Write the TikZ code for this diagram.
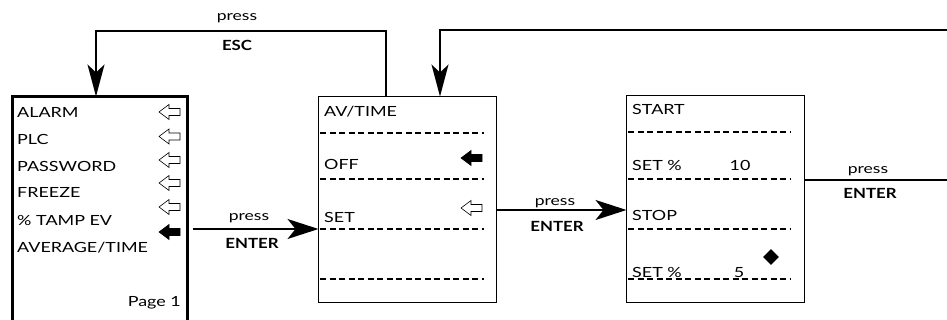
\documentclass[tikz,border=0pt]{standalone}
\usepackage{fontspec}
\setmainfont{Lato}
\usetikzlibrary{arrows.meta,shapes.geometric}
\begin{document}
\begin{tikzpicture}[x=1pt,y=-1pt,
  frame/.style={draw, line width=1.1pt, inner sep=0pt, outer sep=0pt, minimum width=178pt},
  thickframe/.style={draw, line width=3pt, inner sep=0pt, outer sep=0pt, minimum width=175pt},
  txt/.style={anchor=west, inner sep=0pt, text height=10pt, text depth=0pt, font=\fontsize{14}{16}\selectfont\addfontfeatures{FakeStretch=1.28}},
  num/.style={anchor=center, inner sep=0pt, text height=10pt, text depth=0pt, font=\fontsize{14}{16}\selectfont\addfontfeatures{FakeStretch=1.28}},
  lbl/.style={anchor=base, inner sep=0pt, font=\fontsize{13.5}{15}\selectfont\addfontfeatures{FakeStretch=1.3}},
  key/.style={anchor=center, inner sep=0pt, text height=10pt, text depth=0pt, font=\fontsize{14}{16}\selectfont\bfseries\addfontfeatures{FakeStretch=1.2}},
  conn/.style={line width=1.6pt},
  tip/.style={-{Stealth[length=31pt,width=20pt,inset=8pt]}},
  dtip/.style={-{Stealth[length=32pt,width=17pt,inset=8pt]}},
  sep/.style={line width=1.6pt, dash pattern=on 6pt off 3.5pt},
  larr/.pic={\path[pic actions] (-10.5,0) -- (-0.5,-7.5) -- (-0.5,-3.5) -- (10.5,-3.5) -- (10.5,3.5) -- (-0.5,3.5) -- (-0.5,7.5) -- cycle;},
  warrow/.style={draw, line width=0.6pt, fill=white},
  barrow/.style={draw, line width=0.6pt, fill=black}]
\useasboundingbox (0,0) rectangle (947,320);

% boxes
\node[thickframe, minimum height=243.5pt] (b1) at (100,218.25) {};
\node[frame, minimum height=206pt] (b2) at (407.5,199.5) {};
\node[frame, minimum height=207pt] (b3) at (715.5,199) {};

% box 1 contents
\node[txt] (t11) at (17,113) {ALARM};
\node[txt] (t12) at (17,140) {PLC};
\node[txt] (t13) at (17,166.5) {PASSWORD};
\node[txt] (t14) at (17,193) {FREEZE};
\node[txt] (t15) at (17,221) {\% TAMP EV};
\node[txt] (t16) at (17,248) {AVERAGE/TIME};
\node[txt, anchor=east] (t17) at (181,301) {Page 1};
\pic[warrow] at (169.5,112) {larr};
\pic[warrow] at (169.5,136.5) {larr};
\pic[warrow] at (169.5,160) {larr};
\pic[warrow] at (169.5,183) {larr};
\pic[warrow] at (169.5,207) {larr};
\pic[barrow] at (169.5,232) {larr};

% box 2 contents
\node[txt] (t21) at (324,112) {AV/TIME};
\node[txt] (t22) at (324,165) {OFF};
\node[txt] (t23) at (324,218) {SET};
\pic[barrow] at (471.5,158) {larr};
\pic[warrow] at (471.5,208) {larr};
\draw[sep] (320,133) -- (484,133);
\draw[sep] (320,179) -- (484,179);
\draw[sep] (320,229) -- (484,229);
\draw[sep] (320,279) -- (484,279);

% box 3 contents
\node[txt] (t31) at (632,110) {START};
\node[txt] (t32) at (632,166) {SET \%};
\node[num] (t33) at (740,166) {10};
\node[txt] (t34) at (632,216) {STOP};
\node[txt] (t35) at (632,272) {SET \%};
\node[num] (t36) at (739,272) {5};
\node[diamond, fill=black, inner sep=0pt, minimum size=16pt] (dia) at (771,257) {};
\draw[sep] (628,132) -- (791,132);
\draw[sep] (628,179) -- (791,179);
\draw[sep] (628,229) -- (791,229);
\draw[sep] (628,279) -- (791,279);

% connectors
\coordinate (escup) at (386,31);
\coordinate (escdn) at (96,31);
\draw[conn,dtip] (b2.north -| escup) -- (escup) -- (escdn) -- (b1.north -| escdn);
\node[lbl] (escp) at (237,21) {press};
\node[key] (esck) at (237,46) {ESC};

\coordinate (rin) at (950,30);
\coordinate (rturn) at (440,30);
\draw[conn,dtip] (rin) -- (rturn) -- (b2.north -| rturn);

\coordinate (e1) at (193,229);
\draw[conn,tip] (e1) -- (b2.west |- e1);
\node[lbl] (e1p) at (249,221) {press};
\node[key] (e1k) at (252,244) {ENTER};

\coordinate (e2) at (497,210);
\draw[conn,tip] (b2.east |- e2) -- (b3.west |- e2);
\node[lbl] (e2p) at (555,206) {press};
\node[key] (e2k) at (557,227) {ENTER};

\coordinate (e3) at (950,180);
\draw[conn] (b3.east |- e3) -- (e3);
\node[lbl] (e3p) at (868,174) {press};
\node[key] (e3k) at (870,194) {ENTER};
\end{tikzpicture}
\end{document}
